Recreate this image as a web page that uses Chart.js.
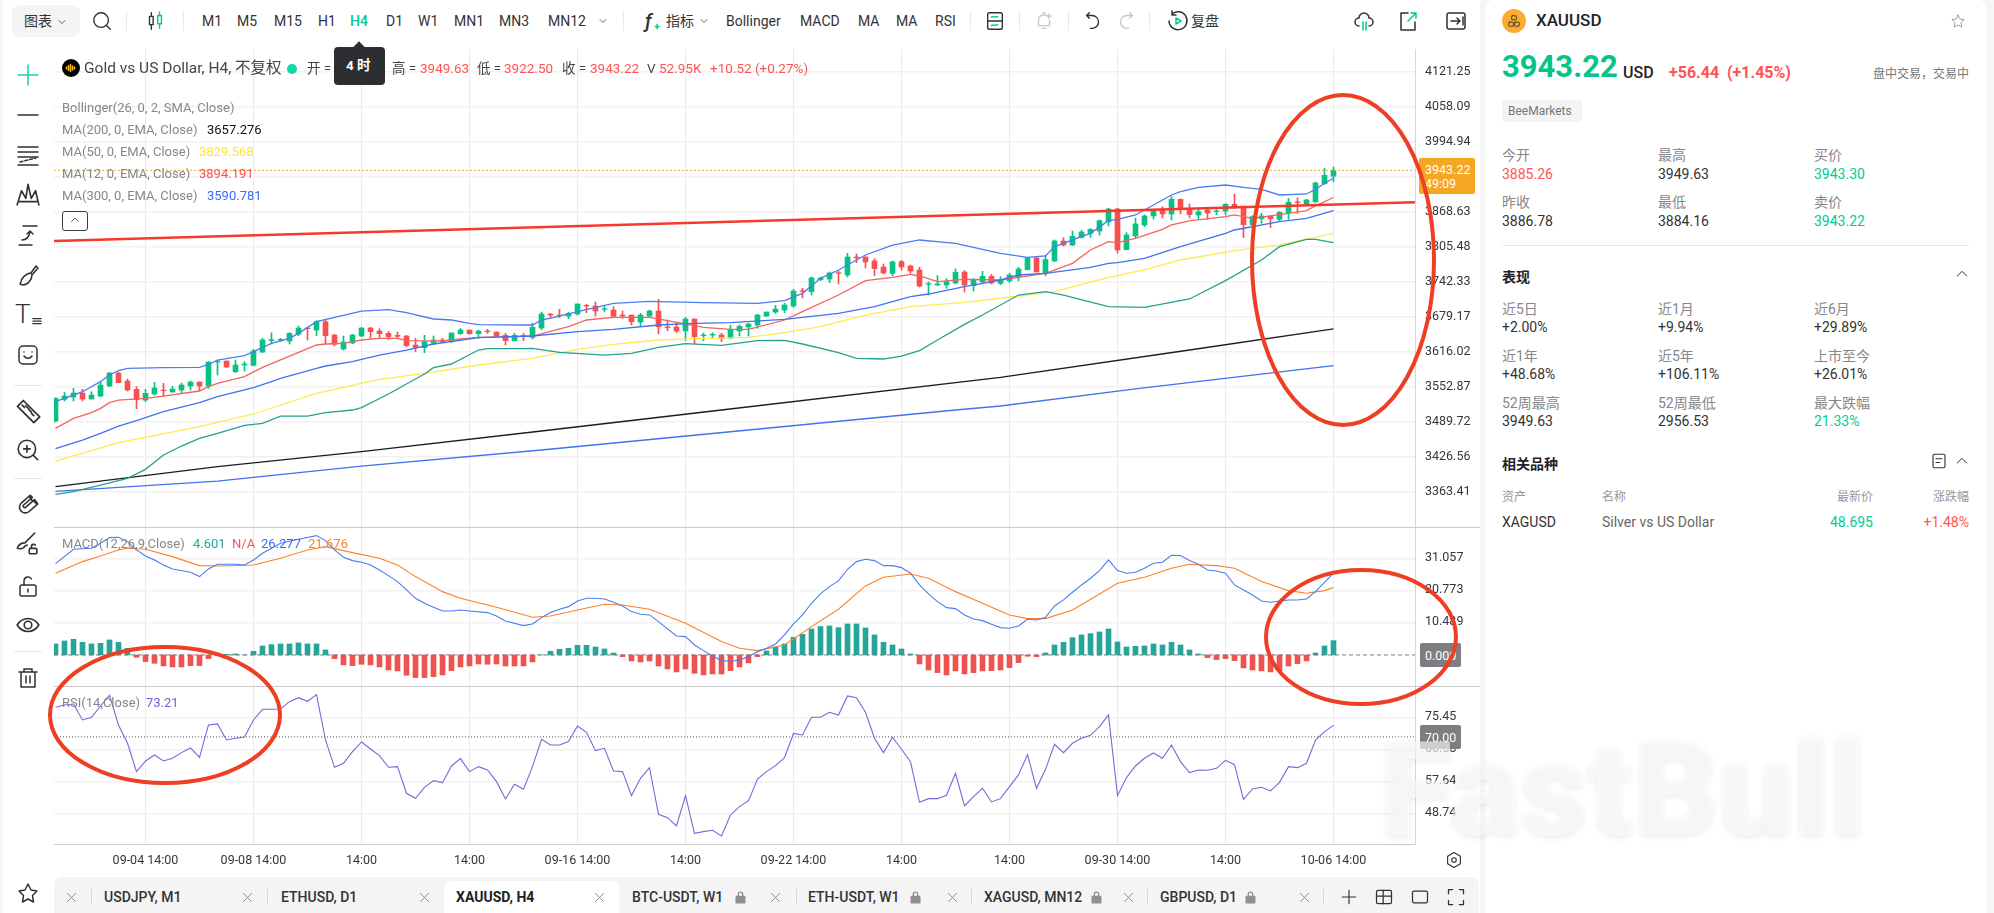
<!DOCTYPE html>
<html lang="zh">
<head>
<meta charset="utf-8">
<title>XAUUSD H4</title>
<script src="https://cdn.jsdelivr.net/npm/chart.js@4/dist/chart.umd.min.js"></script>
<style>
  html, body { margin: 0; padding: 0; }
  body { width: 1994px; height: 913px; overflow: hidden; background: #f6f6f7; position: relative;
         font-family: Roboto, "Noto Sans CJK SC", sans-serif; color: #333; }
  canvas { position: absolute; }
  .box { position: absolute; }
  .t { position: absolute; white-space: nowrap; transform: translateY(-50%); line-height: 1.2; }
  svg.ic { position: absolute; fill: none; stroke: #2e3138; stroke-width: 1.5; stroke-linecap: round; stroke-linejoin: round; }
  #mark { position: absolute; left: 1380px; top: 724px; font: 900 132px/1 Roboto, sans-serif;
          color: rgba(250,250,251,.66); text-shadow: 0 2px 6px rgba(0,0,0,.08); white-space: nowrap; }
  #ovals { position: absolute; left: 0; top: 0; }
</style>
</head>
<body>
<div class="box" style="left:3px;top:0;width:1477px;height:913px;background:#fff"></div>
<div class="box" style="left:1486px;top:0;width:500px;height:913px;background:#fff;border-radius:8px 8px 0 0"></div>
<div class="box" style="left:54px;top:877px;width:1425px;height:36px;background:#f4f4f5;border-radius:8px 8px 0 0"></div>
<div class="box" style="left:444px;top:881px;width:175px;height:32px;background:#fff;border-radius:6px 6px 0 0"></div>
<div class="box" style="left:12px;top:5px;width:68px;height:32px;background:#f4f4f5;border-radius:8px"></div>
<canvas id="priceChart" style="left:54px;top:49px" width="1426" height="478"></canvas>
<canvas id="macdChart" style="left:54px;top:527px" width="1426" height="159"></canvas>
<canvas id="rsiChart" style="left:54px;top:686px" width="1426" height="191"></canvas>
<div class="box" style="left:54px;top:527px;width:1426px;height:1px;background:#c9c9ce"></div>
<div class="box" style="left:54px;top:686px;width:1426px;height:1px;background:#c9c9ce"></div>
<div id="ui"></div>
<svg id="ovals" width="1994" height="913" fill="none" stroke="#ee3e23" stroke-width="4">
  <ellipse cx="1343" cy="260" rx="91" ry="165"/>
  <ellipse cx="1361" cy="637" rx="95" ry="67"/>
  <ellipse cx="165" cy="715" rx="115" ry="68"/>
</svg>
<div id="mark">FastBull</div>
<script>
'use strict';

// ============================================================
// 1. DATA
// ============================================================
const opens = [
  3490.9,3530.0,3534.2,3541.4,3530.6,3536.0,3554.1,3577.5,3563.1,3548.1,
  3528.8,3539.6,3546.9,3543.2,3546.9,3554.1,3561.3,3554.1,3597.4,3599.2,
  3580.0,3592.0,3591.4,3615.4,3635.9,3637.1,3635.3,3647.9,3658.7,3655.1,
  3670.2,3646.1,3620.8,3631.7,3644.3,3658.7,3653.3,3649.1,3645.5,3644.3,
  3628.1,3623.3,3631.1,3637.1,3634.1,3648.5,3655.1,3648.5,3653.3,3651.5,
  3645.5,3635.9,3645.5,3641.9,3658.8,3684.0,3682.2,3680.4,3684.0,3699.7,
  3698.5,3692.4,3691.2,3682.2,3682.2,3669.6,3680.4,3689.4,3660.6,3660.6,
  3653.4,3675.0,3644.9,3646.1,3646.1,3640.7,3653.4,3660.6,3664.2,3680.4,
  3687.6,3691.2,3698.5,3726.1,3724.3,3746.0,3747.2,3758.6,3754.4,3786.9,
  3786.9,3779.7,3768.8,3757.4,3778.5,3770.6,3763.4,3737.6,3736.4,3736.4,
  3740.0,3759.8,3735.2,3742.4,3752.0,3739.4,3744.2,3751.4,3764.1,3785.1,
  3756.8,3779.7,3815.8,3808.6,3822.4,3829.6,3833.8,3850.1,3873.5,3800.2,
  3824.8,3844.7,3860.9,3871.7,3864.5,3891.0,3874.1,3862.7,3871.7,3868.7,
  3869.9,3882.0,3877.7,3844.7,3856.1,3860.3,3854.9,3866.3,3886.2,3882.0,
  3886.2,3919.2,3932.7
];
const closes = [
  3531.8,3536.0,3541.4,3530.6,3537.8,3555.9,3577.5,3560.1,3546.9,3529.4,
  3540.8,3550.5,3545.7,3548.7,3555.9,3561.3,3554.1,3597.4,3598.6,3588.4,
  3592.0,3593.8,3617.2,3637.1,3637.7,3638.3,3649.1,3658.7,3657.5,3670.2,
  3644.9,3629.3,3633.5,3646.1,3658.7,3652.1,3648.5,3643.1,3643.7,3626.9,
  3623.9,3634.1,3637.1,3633.5,3649.7,3655.1,3648.5,3653.3,3652.1,3644.3,
  3635.9,3645.5,3644.3,3660.0,3684.0,3682.2,3681.0,3685.2,3702.1,3698.5,
  3689.4,3693.6,3679.8,3680.4,3670.2,3682.2,3689.4,3661.2,3659.4,3653.4,
  3675.0,3643.1,3646.1,3647.3,3640.1,3655.8,3661.8,3666.0,3682.2,3687.6,
  3693.0,3700.3,3725.5,3724.9,3749.0,3748.4,3758.0,3757.4,3786.9,3785.1,
  3777.9,3765.8,3758.0,3777.9,3768.8,3761.6,3734.5,3738.8,3738.2,3742.4,
  3759.2,3736.4,3745.4,3752.0,3740.0,3746.6,3754.4,3765.3,3785.1,3759.9,
  3782.1,3815.8,3808.6,3824.2,3832.0,3836.8,3852.5,3873.5,3799.6,3826.6,
  3846.5,3860.9,3871.7,3864.5,3891.0,3872.9,3863.3,3868.7,3866.3,3869.9,
  3882.0,3876.5,3845.3,3859.7,3860.9,3856.1,3867.5,3885.6,3885.0,3889.8,
  3920.5,3934.3,3943.22
];
const highs = [
  3533.0,3542.6,3549.9,3548.1,3543.8,3561.9,3578.7,3578.7,3566.7,3552.9,
  3548.1,3560.7,3558.9,3553.5,3559.5,3563.1,3561.3,3597.4,3601.0,3599.2,
  3601.0,3598.0,3620.2,3640.1,3650.3,3640.1,3650.3,3662.4,3659.9,3672.0,
  3675.0,3647.3,3644.3,3647.3,3659.9,3659.9,3657.5,3652.7,3651.5,3645.5,
  3640.1,3645.5,3644.3,3640.1,3650.3,3658.1,3655.1,3655.1,3656.3,3651.5,
  3649.1,3649.1,3649.1,3667.2,3687.6,3685.2,3692.4,3687.0,3702.1,3701.5,
  3705.7,3697.3,3697.3,3689.4,3682.2,3685.2,3691.2,3710.5,3673.2,3669.0,
  3678.0,3675.0,3649.7,3650.3,3649.1,3663.6,3664.2,3667.2,3683.4,3687.6,
  3699.7,3703.3,3728.5,3730.3,3750.8,3750.8,3759.8,3761.6,3793.5,3792.3,
  3787.5,3783.9,3774.2,3779.7,3780.9,3772.4,3768.2,3741.8,3753.2,3747.8,
  3765.2,3762.2,3748.4,3761.0,3755.6,3751.4,3757.4,3768.3,3786.3,3786.3,
  3789.9,3817.6,3821.8,3833.8,3835.0,3838.0,3853.7,3874.7,3874.7,3830.8,
  3856.7,3862.7,3872.9,3877.7,3895.8,3891.6,3882.6,3872.9,3874.1,3872.9,
  3883.2,3900.6,3878.9,3861.5,3865.7,3862.1,3868.7,3892.8,3894.0,3891.0,
  3922.3,3946.9,3949.63
];
const lows = [
  3489.1,3527.0,3527.0,3527.0,3530.6,3534.8,3552.9,3560.1,3545.1,3513.2,
  3525.8,3537.8,3536.0,3543.2,3542.0,3546.9,3545.1,3549.9,3573.9,3587.2,
  3578.1,3581.1,3590.2,3614.2,3629.9,3634.7,3629.9,3644.9,3637.1,3644.9,
  3629.9,3626.3,3619.0,3630.5,3643.1,3640.1,3640.1,3638.3,3640.1,3624.5,
  3616.0,3614.2,3628.7,3632.3,3632.9,3647.3,3647.3,3640.1,3649.1,3643.1,
  3628.1,3635.3,3635.9,3638.9,3655.8,3677.4,3677.4,3675.6,3682.2,3686.4,
  3680.4,3687.6,3678.0,3676.2,3664.2,3661.2,3678.0,3647.9,3654.0,3650.4,
  3635.9,3629.9,3635.9,3640.1,3634.1,3639.5,3644.3,3644.3,3658.2,3679.2,
  3685.2,3686.4,3696.1,3712.9,3718.3,3744.2,3740.6,3738.2,3750.8,3776.7,
  3767.0,3753.2,3756.2,3753.2,3763.4,3757.4,3732.7,3718.3,3735.2,3730.3,
  3738.2,3723.7,3725.5,3738.2,3738.2,3737.0,3740.6,3744.2,3763.5,3759.9,
  3753.2,3778.5,3806.8,3807.4,3821.2,3822.4,3826.6,3842.9,3794.1,3799.6,
  3820.6,3841.7,3855.5,3857.3,3853.7,3864.5,3857.3,3855.5,3854.9,3863.3,
  3862.7,3874.7,3821.8,3844.1,3847.7,3839.9,3852.5,3854.9,3865.7,3880.8,
  3885.6,3918.0,3922.5
];

const bbUpperX = [0,3,5,6,7,8,12,16,17,18,21,22,24,26,27,29,34,37,39,42,44,46,47,52,53,54,56,58,62,66,72,78,81,83,85,87,90,93,96,100,105,108,110,111,113,115,117,118,120,122,124,125,127,130,132,134,136,139,140,141,142];
const bbUpperY = [3525.8,3543.8,3561.9,3573.9,3581.8,3586.0,3587.2,3587.8,3593.2,3601.0,3608.8,3616.0,3631.1,3640.1,3649.1,3670.2,3689.4,3691.8,3686.4,3675.0,3673.2,3667.2,3664.8,3664.2,3664.2,3673.2,3680.4,3688.2,3703.3,3706.9,3704.5,3703.3,3708.1,3721.3,3748.4,3763.4,3790.5,3808.5,3817.6,3811.5,3793.5,3786.3,3788.7,3805.6,3817.6,3829.6,3852.5,3854.9,3862.7,3880.8,3898.8,3904.8,3912.6,3916.8,3912.6,3909.0,3898.8,3900.6,3909.0,3919.9,3928.9];
const bbMidX = [0,3,5,7,9,12,16,18,22,24,25,29,30,33,34,36,39,42,44,47,53,58,62,67,71,75,81,87,91,95,97,101,105,107,110,115,117,118,121,125,130,131,136,139,142];
const bbMidY = [3441.0,3456.6,3468.7,3481.9,3491.5,3507.8,3524.0,3534.8,3551.1,3561.9,3567.9,3586.0,3590.2,3598.0,3602.2,3610.0,3619.0,3629.9,3634.1,3641.3,3644.3,3652.1,3656.4,3664.2,3667.2,3668.4,3674.4,3685.2,3697.3,3715.3,3720.1,3733.3,3745.4,3754.4,3757.4,3768.3,3775.5,3776.7,3784.5,3805.6,3829.6,3835.6,3850.7,3856.7,3870.5];
const bbLowerX = [0,2,5,8,10,12,14,16,18,21,23,25,28,30,33,34,37,41,42,44,47,48,52,53,56,61,64,67,70,74,78,81,83,87,89,92,94,96,98,101,103,107,110,112,117,121,126,130,134,136,139,140,142];
const bbLowerY = [3358.6,3363.4,3375.4,3387.5,3403.7,3429.6,3445.8,3459.6,3468.7,3483.1,3486.7,3499.9,3499.9,3506.0,3510.8,3515.0,3539.6,3575.7,3587.2,3593.8,3619.0,3621.4,3621.4,3622.1,3614.8,3610.0,3613.0,3623.9,3630.5,3627.5,3635.9,3636.5,3629.9,3614.2,3604.0,3602.8,3608.2,3617.9,3637.1,3665.4,3682.3,3718.3,3724.4,3718.3,3697.3,3696.1,3711.1,3744.2,3781.5,3805.6,3818.8,3818.8,3812.8];
const ma12X = [0,2,4,5,6,7,10,12,16,17,18,21,23,29,30,32,34,36,38,39,43,45,47,51,53,57,59,62,66,68,72,75,77,81,83,87,90,93,95,96,98,101,105,110,113,115,117,118,120,123,124,126,130,131,133,137,139,140,142];
const ma12Y = [3477.7,3495.7,3506.0,3513.8,3524.0,3528.8,3531.8,3536.0,3545.1,3552.9,3558.9,3570.9,3587.8,3628.1,3629.9,3631.1,3637.1,3640.1,3640.1,3635.9,3635.3,3638.9,3641.9,3643.1,3644.3,3661.2,3673.2,3678.0,3678.0,3672.0,3660.0,3656.4,3656.4,3673.2,3688.2,3718.3,3744.2,3750.2,3755.6,3752.6,3742.4,3746.6,3745.4,3757.4,3775.5,3799.6,3814.6,3812.8,3820.6,3836.8,3844.7,3851.9,3859.7,3862.7,3856.7,3865.7,3870.5,3879.0,3894.191];
const ma50X = [0,7,16,22,29,36,41,47,53,58,62,67,72,77,81,85,90,95,101,107,111,117,121,125,131,136,142];
const ma50Y = [3418.7,3451.8,3480.7,3503.6,3540.8,3566.1,3576.9,3592.0,3604.0,3620.3,3629.3,3637.1,3640.1,3641.9,3650.3,3661.2,3682.2,3697.3,3705.1,3716.5,3724.4,3750.2,3763.5,3781.5,3798.3,3808.6,3829.568];
const ma200X = [0,18,34,54,74,105,126,142];
const ma200Y = [3372.4,3408.5,3435.6,3472.9,3510.8,3569.7,3619.1,3657.276];
const ma300X = [0,18,34,54,77,100,105,120,142];
const ma300Y = [3364.0,3382.6,3409.7,3438.6,3474.7,3510.8,3518.0,3549.0,3590.781];
const trendX = [-0.1667,151.0556];
const trendY = [3815.8,3885.6];
const lastPrice = 3943.22;

const macdHist = [
  3.54,4.50,5.04,4.07,3.54,3.75,4.82,4.07,2.14,-0.75,
  -2.14,-2.68,-3.54,-3.86,-3.86,-3.43,-3.43,-1.18,0.11,0.21,
  0.32,0.05,1.18,2.89,3.32,3.54,3.54,3.86,3.54,3.54,
  1.61,-1.18,-3.21,-3.43,-3.00,-3.21,-3.86,-4.82,-5.14,-6.53,
  -7.28,-7.28,-6.96,-6.43,-5.04,-3.86,-3.54,-2.89,-3.00,-2.89,
  -3.54,-3.54,-3.54,-2.25,0.03,1.18,1.82,2.14,3.11,3.11,
  2.57,1.93,0.64,-0.54,-1.93,-2.25,-1.93,-3.54,-4.50,-5.46,
  -4.50,-5.89,-6.43,-6.11,-6.11,-5.04,-3.86,-2.57,-0.54,1.29,
  2.57,3.54,5.68,6.64,8.36,9.11,9.32,8.78,9.96,9.96,
  8.68,6.43,4.07,3.21,1.93,0.32,-2.89,-4.82,-5.68,-6.43,
  -5.14,-6.11,-5.68,-5.14,-5.04,-4.82,-4.07,-2.46,-0.43,-0.54,
  0.64,3.21,4.07,5.57,6.43,6.86,7.39,8.36,4.18,2.57,
  2.79,2.89,3.54,3.21,4.07,3.21,1.61,0.32,-0.86,-1.50,
  -1.18,-1.82,-4.18,-4.82,-5.14,-5.46,-5.04,-3.54,-2.79,-1.93,
  0.64,2.89,4.601
];
const macdX = [0,2,4,5,6,7,8,9,10,11,12,13,15,16,17,18,20,21,22,23,24,25,27,29,30,31,32,33,34,35,36,37,38,39,40,41,42,43,44,45,46,48,49,50,52,53,54,55,56,57,58,59,60,61,62,63,64,65,66,67,68,69,70,71,72,73,74,75,76,77,78,79,80,81,82,83,84,85,86,87,88,89,90,91,92,93,94,95,96,97,98,99,100,101,102,103,104,105,106,107,108,109,110,111,112,113,114,115,116,117,118,119,120,121,122,123,124,125,126,127,128,129,130,131,132,133,134,135,136,137,138,139,140,141,142];
const macdY = [29.35,33.96,34.28,35.89,37.71,37.82,36.42,33.75,31.82,30.53,28.93,27.64,26.57,25.18,27.64,29.14,29.14,28.93,30.53,32.67,34.28,35.89,37.17,38.35,36.75,33.75,31.39,30.32,29.78,28.93,27.32,25.50,23.57,20.89,18.21,16.61,15.32,14.14,14.14,14.46,14.14,13.61,12.53,10.93,9.43,9.96,12.00,13.61,14.68,15.53,17.36,18.21,18.21,18.00,16.93,15.75,13.93,13.07,12.86,10.71,8.36,6.11,5.89,3.21,1.39,-0.32,-1.82,-2.04,-1.61,-0.54,1.07,2.14,3.54,6.43,9.96,12.86,16.61,19.61,21.96,23.78,27.53,30.00,30.75,30.32,28.71,28.71,28.07,26.25,22.50,19.61,17.14,15.21,14.89,12.86,11.57,11.03,9.86,8.78,8.57,9.32,11.46,11.25,12.11,15.75,17.68,20.14,22.50,24.64,27.10,30.53,27.10,26.25,26.57,27.85,29.46,29.78,32.03,31.92,30.32,29.14,27.32,27.00,26.25,22.50,20.89,19.28,17.36,16.93,17.36,17.68,17.68,18.00,20.35,23.35,26.277];
const signalX = [0,3,5,7,8,10,13,16,18,22,25,28,30,33,36,38,40,43,45,49,53,55,58,61,63,66,70,74,76,78,81,84,87,90,92,95,97,100,103,106,108,110,113,116,118,121,124,126,129,131,134,137,139,141,142];
const signalY = [26.25,30.00,31.82,33.75,34.28,33.96,31.60,28.71,28.60,28.93,31.07,33.75,34.82,32.89,31.07,28.93,25.18,20.35,18.21,15.32,12.11,12.53,14.46,16.28,16.07,14.68,10.18,4.29,2.14,1.39,3.21,9.11,14.68,22.18,24.96,26.03,24.64,20.35,16.61,12.86,11.68,11.68,14.46,19.61,23.03,24.96,27.85,29.14,28.71,27.85,23.57,20.68,19.82,20.68,21.676];

const rsiValues = [
  78.23,78.88,79.16,74.71,75.45,78.60,81.57,73.32,68.22,60.34,
  63.30,64.97,63.30,64.04,65.62,66.92,64.32,73.32,73.60,69.14,
  69.61,69.98,74.71,77.68,77.68,77.77,79.81,80.92,79.90,81.76,
  69.14,61.54,62.65,65.90,68.59,66.64,64.79,61.54,61.73,54.31,
  52.92,55.98,57.83,57.27,61.91,63.95,60.34,61.73,60.80,57.55,
  52.73,56.81,55.42,61.73,69.33,67.75,67.75,68.68,73.04,71.28,
  66.18,66.83,60.52,60.34,53.66,58.48,61.45,48.47,47.54,45.22,
  53.66,43.18,43.64,44.02,42.44,48.28,50.60,52.27,58.29,60.34,
  62.00,64.23,70.96,70.54,75.45,75.45,76.84,76.10,81.38,80.92,
  76.84,69.61,65.62,69.89,66.55,63.12,51.80,52.82,52.82,53.75,
  59.87,50.78,53.38,55.70,51.90,52.82,56.16,59.41,65.06,55.70,
  60.98,67.94,65.62,68.22,69.61,70.44,72.85,76.10,53.66,58.67,
  61.91,64.04,65.53,64.04,67.75,63.12,60.06,60.80,60.71,61.26,
  63.49,62.28,52.64,55.51,55.98,54.96,57.37,61.73,61.45,62.65,
  69.14,71.46,73.21
];
const rsiLevel = 70;

const timeTickIdx = [10,22,34,46,58,70,82,94,106,118,130,142];
const timeTicks = ['09-04 14:00','09-08 14:00','14:00','14:00','09-16 14:00','14:00','09-22 14:00','14:00','14:00','09-30 14:00','14:00','10-06 14:00'];
const priceTicks = [4121.25,4058.09,3994.94,3931.78,3868.63,3805.48,3742.33,3679.17,3616.02,3552.87,3489.72,3426.56,3363.41];
const macdTicks = [31.057,20.773,10.489];
const rsiTicks = [75.45,66.55,57.64,48.74];

// ============================================================
// 2. CHART HELPERS
// ============================================================
const UP = '#08c283', DOWN = '#f9504f';
const X_MIN = -0.1667, X_MAX = 151.0556;   // left edge of pane, price axis line
const AXIS_W = 65;

function xy(xs, ys) { return xs.map((x, i) => ({ x, y: ys[i] })); }

function lineSet(xs, ys, color, order, extra) {
  return Object.assign({ type: 'line', data: xy(xs, ys), borderColor: color, borderWidth: 1.3,
    pointRadius: 0, tension: 0, order }, extra || {});
}

function barSet(values, colors, width, order) {
  return { type: 'bar', data: values, backgroundColor: colors, barThickness: width, grouped: false,
    borderWidth: 0, order };
}

// axis labels must not push the plot area in from the pane edges
function noPadding(ax) { ax.paddingTop = ax.paddingBottom = ax.paddingLeft = ax.paddingRight = 0; }

function makeChart(id, datasets, yRange, yTicks, decimals, showTime) {
  const ctx = document.getElementById(id);
  return new Chart(ctx, {
    type: 'bar',
    data: { datasets },
    options: {
      responsive: false, animation: false, events: [], devicePixelRatio: 1,
      layout: { padding: 0 },
      plugins: { legend: { display: false }, tooltip: { enabled: false } },
      scales: {
        x: {
          type: 'linear', min: X_MIN, max: X_MAX, offset: false,
          grid: { color: '#eaeaec', lineWidth: 1, offset: false, drawTicks: false },
          border: { display: showTime, color: '#c9c9ce' },
          afterBuildTicks: ax => { ax.ticks = timeTickIdx.map(v => ({ value: v })); },
          afterFit: ax => { ax.height = showTime ? 33 : 0; noPadding(ax); },
          ticks: {
            display: showTime, autoSkip: false, maxRotation: 0, padding: 9, color: '#33363d',
            font: { family: 'Roboto', size: 12.5 },
            callback: (v, i) => timeTicks[i]
          }
        },
        y: {
          position: 'right', min: yRange[0], max: yRange[1],
          grid: { color: '#f1f1f3', lineWidth: 1.5, drawTicks: false },
          border: { color: '#d6d6da' },
          afterBuildTicks: ax => { ax.ticks = yTicks.map(v => ({ value: v })); },
          afterFit: ax => { ax.width = AXIS_W; noPadding(ax); },
          ticks: {
            autoSkip: false, padding: 10, color: '#33363d', crossAlign: 'near',
            font: { family: 'Roboto', size: 12.5 },
            callback: v => v.toFixed(decimals)
          }
        }
      }
    }
  });
}

// ============================================================
// 3. THE THREE PANES
// ============================================================
const idx = opens.map((_, i) => i);
const candleColors = opens.map((o, i) => closes[i] >= o ? UP : DOWN);
const wicks = idx.map(i => ({ x: i, y: [lows[i], highs[i]] }));
const bodies = idx.map(i => ({ x: i, y: [opens[i], closes[i]] }));

makeChart('priceChart', [
  lineSet(trendX, trendY, '#f6392b', 1, { borderWidth: 2.6 }),
  lineSet(bbUpperX, bbUpperY, '#4a7cf3', 2),
  lineSet(bbMidX, bbMidY, '#3f73f0', 2),
  lineSet(bbLowerX, bbLowerY, '#26a08f', 2),
  lineSet(ma12X, ma12Y, '#f6625e', 2),
  lineSet(ma50X, ma50Y, '#ffeb4d', 2),
  lineSet(ma200X, ma200Y, '#1c1c1c', 2),
  lineSet(ma300X, ma300Y, '#3f73f0', 2),
  lineSet(trendX, [lastPrice, lastPrice], '#e6a93a', 3, { borderWidth: 1, borderDash: [2, 2] }),
  barSet(bodies, candleColors, 5, 4),
  barSet(wicks, candleColors, 1, 5)
], [3299.7, 4162.2], priceTicks, 2, false);

makeChart('macdChart', [
  lineSet(macdX, macdY, '#4a7cf3', 1, { borderWidth: 1.1 }),
  lineSet(signalX, signalY, '#ff8126', 1, { borderWidth: 1.1 }),
  lineSet(trendX, [0, 0], '#7c7c80', 2, { borderWidth: 1, borderDash: [4, 3] }),
  barSet(idx.map(i => ({ x: i, y: macdHist[i] })), macdHist.map(v => v >= 0 ? '#26a69a' : '#ef5350'), 5, 3)
], [-9.98, 41.12], macdTicks, 3, false);

makeChart('rsiChart', [
  lineSet(idx, rsiValues, '#8560d8', 1, { borderWidth: 1.1 }),
  lineSet(trendX, [rsiLevel, rsiLevel], '#555', 2, { borderWidth: 1, borderDash: [1, 2] })
], [40.2, 84.16], rsiTicks, 2, true);

// ============================================================
// 4. PAGE CHROME (toolbars, legends, side panel)
// ============================================================
const ui = document.getElementById('ui');

function put(x, y, text, css, alignRight) {
  const el = document.createElement('div');
  el.className = 't';
  el.textContent = text;
  el.style.cssText = (alignRight ? 'right:' + (1994 - x) : 'left:' + x) + 'px;top:' + y + 'px;' + (css || '');
  ui.appendChild(el);
}

function icon(cx, cy, size, inner, css) {
  const s = document.createElementNS('http://www.w3.org/2000/svg', 'svg');
  s.setAttribute('class', 'ic');
  s.setAttribute('viewBox', '0 0 24 24');
  s.setAttribute('width', size);
  s.setAttribute('height', size);
  s.style.cssText = 'left:' + (cx - size / 2) + 'px;top:' + (cy - size / 2) + 'px;' + (css || '');
  s.innerHTML = inner;
  ui.appendChild(s);
}

function rule(x, y, w, h, color) {
  const el = document.createElement('div');
  el.className = 'box';
  el.style.cssText = 'left:' + x + 'px;top:' + y + 'px;width:' + w + 'px;height:' + h + 'px;background:' + (color || '#e8e8ea');
  ui.appendChild(el);
}

const RED = 'color:#ff5353', GREEN = 'color:#00cc92', GRAY = 'color:#85878c';
const CHEV = '<path d="M6 9l6 6 6-6"/>', CHEV_UP = '<path d="M5 15l7-7 7 7"/>';

// top toolbar
put(24, 21, '图表', 'font-size:14px');
icon(62, 22, 12, CHEV);
icon(102, 21, 22, '<circle cx="11" cy="11" r="8"/><path d="M17 17l4 4"/>');
icon(155, 21, 22, '<rect x="6" y="7" width="4" height="9"/><path d="M8 3v4M8 16v5"/><rect x="15" y="6" width="4" height="9" stroke="#00c98f"/><path d="M17 2v4M17 15v5" stroke="#00c98f"/>');
rule(126, 11, 1, 20); rule(183, 11, 1, 20); rule(623, 11, 1, 20); rule(970, 11, 1, 20);
rule(1019, 11, 1, 20); rule(1068, 11, 1, 20); rule(1149, 11, 1, 20);
const periods = ['M1','M5','M15','H1','H4','D1','W1','MN1','MN3','MN12'];
const periodX = [202,237,274,318,350,386,418,454,499,548];
periods.forEach((p, i) => put(periodX[i], 21, p, 'font-size:14px;' + (p === 'H4' ? 'color:#00cc92;font-weight:500' : '')));
icon(603, 21, 12, CHEV);
put(645, 21, 'ƒ', 'font-size:20px;font-style:italic;font-weight:500');
put(654, 27, '+', 'font-size:11px;color:#00c98f;font-weight:700');
put(666, 21, '指标', 'font-size:14px');
icon(704, 21, 12, CHEV);
const studies = ['Bollinger','MACD','MA','MA','RSI'];
const studyX = [726,800,858,896,935];
studies.forEach((p, i) => put(studyX[i], 21, p, 'font-size:14px'));
icon(995, 21, 22, '<rect x="4" y="3" width="16" height="18" rx="2"/><path d="M4 12h16"/><path d="M8 8c2-2 4 1 7-1M8 17c2-2 4 1 7-1" stroke="#00c98f"/>');
icon(1044, 21, 22, '<path d="M6 17V11a6 6 0 0 1 9-5M6 17h12v-6M11 3h2M10 20h4M17 4v5M15 6.500h5" />', 'stroke:#c6c8cc');
icon(1093, 21, 22, '<path d="M8 3L5 6l3 3M5 6h6a7 7 0 1 1 0 14H9"/>');
icon(1126, 21, 22, '<path d="M16 3l3 3-3 3M19 6h-6a7 7 0 1 0 0 14h2"/>', 'stroke:#c6c8cc');
icon(1178, 21, 24, '<path d="M6 5a9 9 0 1 1-3 7M6 2v4h4"/><path d="M10 9l5 3-5 3z" stroke="#00c98f"/>');
put(1191, 21, '复盘', 'font-size:14px');
icon(1364, 21, 24, '<path d="M7 17a4 4 0 0 1 0-8 5 5 0 0 1 10 0 4 4 0 0 1 0 8"/><path d="M11 13v8M14 13v8" stroke="#00c98f"/>');
icon(1408, 21, 24, '<path d="M12 4H5v17h14v-8"/><path d="M12 12l8-8M15 4h5v5" stroke="#00c98f"/>');
icon(1456, 21, 24, '<rect x="3" y="4" width="18" height="16" rx="2"/><path d="M7 12h9M13 9l3 3-3 3M19 8v8"/>');

// left toolbar
icon(28, 75, 24, '<path d="M12 2v20M2 12h20"/>', 'stroke:#12d3a4');
icon(28, 115, 24, '<path d="M2 12h20"/>');
icon(28, 155, 24, '<path d="M2 4h20M2 9h20M2 14h20M2 22h20"/><path d="M4 19l16-4" stroke-dasharray="3 2"/>');
icon(28, 194, 26, '<path d="M2 22L6 9l4 7 2-13 3 13 4-7 3 13M4 19h16" />');
icon(28, 235, 24, '<path d="M7 3h14M3 22h13M6 17c5 0 7-3 8-8M11 11l3-3 3 3"/>');
icon(28, 275, 24, '<path d="M15 10l5-7 2 2-6 7zM15 10l1 2M14 10c-4 1-9 5-9 9l-1 2 3 1c5 0 9-6 9-10"/>');
put(15, 315, 'T', 'font-size:26px;font-weight:300;color:#2e3138');
icon(37, 321, 10, '<path d="M2 6h20M2 12h20M2 18h20"/>', 'stroke-width:3');
icon(28, 355, 24, '<rect x="3" y="3" width="18" height="18" rx="4"/><path d="M8 13c2 3 6 3 8 0M8 9v.1M16 9v.1"/>');
rule(14, 385, 28, 1);
icon(28, 411, 28, '<path d="M3 8l5-5 14 14-5 5zM7 7l2 2M10 7.500l3 3M13 11l2 2M15 14l2 2"/>');
icon(28, 450, 26, '<circle cx="11" cy="11" r="8"/><path d="M17 17l4 4M8 11h6M11 8v6"/>');
rule(14, 478, 28, 1);
icon(28, 505, 26, '<path d="M14 3L6 10a5 5 0 0 0 7 8l8-7-3-4-8 7a1 1 0 0 1-2-2l8-7zM13 4l3 4M17 8l3 3"/>');
icon(26, 544, 26, '<path d="M19 3l-8 8M11 11c-3 0-6 2-7 5 3 1 6 0 7-2l2-1M20 2l-1 1"/><rect x="15" y="16" width="7" height="5" rx="1"/><path d="M17 16v-2a2 2 0 0 1 3.500 -1"/>');
icon(28, 587, 24, '<rect x="4" y="10" width="16" height="11" rx="2"/><path d="M8 10V6a4 4 0 0 1 7.500-2M12 14v3"/>');
icon(28, 625, 26, '<path d="M2 12c5-8 15-8 20 0-5 8-15 8-20 0z"/><circle cx="12" cy="12" r="3.500"/>');
rule(14, 651, 28, 1);
icon(28, 678, 24, '<path d="M3 6h18M8 6V3h8v3M5 6v15h14V6M10 10v7M14 10v7"/>');
icon(28, 893, 24, '<path d="M12 3l3 6 6 1-4.500 4.500 1 6.500-5.500-3-5.500 3 1-6.500L3 10l6-1z"/>');

// price pane legend
const iconDot = document.createElement('div');
iconDot.className = 'box';
iconDot.style.cssText = 'left:62px;top:59px;width:18px;height:18px;border-radius:50%;background:#000';
ui.appendChild(iconDot);
icon(71, 68, 12, '<path d="M3 10v4M7 7v10M11 5v14M15 8v8M19 10v4" stroke="#f5b914"/>', 'stroke-width:3');
put(84, 68, 'Gold vs US Dollar, H4, 不复权', 'font-size:15.5px;color:#444');
rule(287, 64, 10, 10, '#0fd8a6');
ui.lastChild.style.borderRadius = '50%';
const ohlcLabels = ['开 =','高 =','低 =','收 =','V'];
const ohlcLabelX = [307,392,477,562,647];
const ohlcValues = ['3949.63','3922.50','3943.22','52.95K'];
const ohlcValueX = [420,504,590,659];
ohlcLabels.forEach((s, i) => put(ohlcLabelX[i], 68, s, 'font-size:13.5px;color:#444'));
ohlcValues.forEach((s, i) => put(ohlcValueX[i], 68, s, 'font-size:13.5px;' + RED));
put(710, 68, '+10.52 (+0.27%)', 'font-size:13.5px;' + RED);
rule(334, 47, 51, 38, '#2c2e31');
ui.lastChild.style.borderRadius = '4px';
rule(355, 43, 8, 8, '#2c2e31');
ui.lastChild.style.transform = 'rotate(45deg)';
put(346, 65, '4 时', 'font-size:13.5px;font-weight:700;color:#fff');

const indNames = ['Bollinger(26, 0, 2, SMA, Close)','MA(200, 0, EMA, Close)','MA(50, 0, EMA, Close)','MA(12, 0, EMA, Close)','MA(300, 0, EMA, Close)'];
const indValues = ['','3657.276','3829.568','3894.191','3590.781'];
const indColors = ['','#111','#ffe53b','#ff4d4d','#3a6df0'];
const indValueX = [0,207,199,199,207];
indNames.forEach((s, i) => {
  put(62, 107.500 + 22 * i, s, 'font-size:13px;' + GRAY);
  if (indValues[i]) put(indValueX[i], 107.500 + 22 * i, indValues[i], 'font-size:13px;color:' + indColors[i]);
});
const fold = document.createElement('div');
fold.className = 'box';
fold.style.cssText = 'left:62px;top:211px;width:24px;height:18px;border:1px solid #3a3c42;border-radius:3px;background:#fff';
ui.appendChild(fold);
icon(75, 220, 12, CHEV_UP);

// MACD and RSI legends
put(62, 544, 'MACD(12,26,9,Close)', 'font-size:13px;' + GRAY);
put(193, 544, '4.601', 'font-size:13px;color:#26a69a');
put(232, 544, 'N/A', 'font-size:13px;' + RED);
put(261, 544, '26.277', 'font-size:13px;color:#3a6df0');
put(308, 544, '21.676', 'font-size:13px;color:#ff7f24');
put(62, 703, 'RSI(14,Close)', 'font-size:13px;' + GRAY);
put(146, 703, '73.21', 'font-size:13px;color:#7e57d6');

// axis tags
rule(1419, 158, 56, 36, '#f5a623');
ui.lastChild.style.borderRadius = '2px';
put(1425, 169, '3943.22', 'font-size:12.5px;color:#fff');
put(1425, 183, '49:09', 'font-size:12.5px;color:#fff');
rule(1420, 643, 41, 24, '#7e7e82');
ui.lastChild.style.borderRadius = '2px';
put(1425, 655, '0.000', 'font-size:12.5px;color:#fff');
rule(1420, 725, 41, 24, '#7e7e82');
ui.lastChild.style.borderRadius = '2px';
put(1425, 737, '70.00', 'font-size:12.5px;color:#fff');
icon(1454, 860, 18, '<path d="M12 2l8.500 5v10L12 22l-8.500-5V7z"/><circle cx="12" cy="12" r="3"/>');

// tabs
const tabNames = ['USDJPY, M1','ETHUSD, D1','XAUUSD, H4','BTC-USDT, W1','ETH-USDT, W1','XAGUSD, MN12','GBPUSD, D1'];
const tabX = [104,281,456,632,808,984,1160];
const tabCloseX = [71,247,424,599,775,952,1128,1304];
const tabLockX = [0,0,0,740,915,1096,1250];
tabNames.forEach((s, i) => {
  put(tabX[i], 897, s, 'font-size:14px;font-weight:500;' + (i === 2 ? 'font-weight:700;color:#222' : ''));
  if (tabLockX[i]) icon(tabLockX[i], 897, 13, '<rect x="4" y="10" width="16" height="12" rx="1" fill="#8d8f95"/><path d="M8 10V6a4 4 0 0 1 8 0v4"/>', 'stroke:#8d8f95;stroke-width:2.5');
});
tabCloseX.forEach(x => icon(x, 897, 11, '<path d="M3 3l18 18M21 3L3 21"/>', 'stroke:#85878c;stroke-width:2'));
[91,267,796,971,1147,1323].forEach(x => rule(x, 889, 1, 16, '#d9d9dc'));
icon(1349, 897, 18, '<path d="M12 3v18M3 12h18"/>');
icon(1384, 897, 20, '<rect x="3" y="4" width="18" height="16" rx="2"/><path d="M3 11h18M11 4v16"/>');
icon(1420, 897, 20, '<rect x="3" y="5" width="18" height="14" rx="2"/>');
icon(1456, 897, 20, '<path d="M3 8V3h5M16 3h5v5M21 16v5h-5M8 21H3v-5"/>');

// side panel header
rule(1502, 9, 24, 24, '#fdab2d');
ui.lastChild.style.borderRadius = '50%';
icon(1514, 21, 14, '<rect x="8" y="3" width="8" height="7" rx="1"/><rect x="3" y="14" width="8" height="7" rx="1"/><rect x="13" y="14" width="8" height="7" rx="1"/>');
put(1536, 20, 'XAUUSD', 'font-size:17px;font-weight:500;color:#1f2229');
icon(1958, 21, 16, '<path d="M12 3l3 6 6 1-4.500 4.500 1 6.500-5.500-3-5.500 3 1-6.500L3 10l6-1z"/>', 'stroke:#9a9ca2');
put(1502, 67, '3943.22', 'font-size:31px;font-weight:700;color:#05c48a');
put(1623, 73, 'USD', 'font-size:16px;font-weight:500;color:#1f2229');
put(1669, 73, '+56.44', 'font-size:16px;font-weight:700;' + RED);
put(1727, 73, '(+1.45%)', 'font-size:16px;font-weight:700;' + RED);
put(1969, 74, '盘中交易，交易中', 'font-size:12px;color:#777', true);
rule(1502, 100, 80, 22, '#f4f4f5');
ui.lastChild.style.borderRadius = '3px';
put(1508, 111, 'BeeMarkets', 'font-size:12px;color:#777');

// side panel stat grids
const statX = [1502,1658,1814];
const quoteLabels = ['今开','最高','买价','昨收','最低','卖价'];
const quoteValues = ['3885.26','3949.63','3943.30','3886.78','3884.16','3943.22'];
const quoteColors = [RED,'','color:#00cc92','','','color:#00cc92'];
quoteLabels.forEach((s, i) => {
  const row = Math.floor(i / 3);
  put(statX[i % 3], 155 + 47 * row, s, 'font-size:14px;' + GRAY);
  put(statX[i % 3], 174 + 47 * row, quoteValues[i], 'font-size:14px;' + quoteColors[i]);
});
rule(1502, 245, 467, 1);
put(1502, 277, '表现', 'font-size:14px;font-weight:700;color:#1f2229');
icon(1962, 274, 16, CHEV_UP);
const perfLabels = ['近5日','近1月','近6月','近1年','近5年','上市至今','52周最高','52周最低','最大跌幅'];
const perfValues = ['+2.00%','+9.94%','+29.89%','+48.68%','+106.11%','+26.01%','3949.63','2956.53','21.33%'];
perfLabels.forEach((s, i) => {
  const row = Math.floor(i / 3);
  put(statX[i % 3], 309 + 47.200 * row, s, 'font-size:14px;' + GRAY);
  put(statX[i % 3], 327 + 47 * row, perfValues[i], 'font-size:14px;' + (i === 8 ? 'color:#00cc92' : ''));
});
put(1502, 464, '相关品种', 'font-size:14px;font-weight:700;color:#1f2229');
icon(1939, 461, 18, '<rect x="4" y="3" width="16" height="18" rx="2"/><path d="M8 9h8M8 14h5"/>');
icon(1962, 461, 16, CHEV_UP);
put(1502, 497, '资产', 'font-size:12px;color:#96989d');
put(1602, 497, '名称', 'font-size:12px;color:#96989d');
put(1873, 497, '最新价', 'font-size:12px;color:#96989d', true);
put(1969, 497, '涨跌幅', 'font-size:12px;color:#96989d', true);
put(1502, 522, 'XAGUSD', 'font-size:14px');
put(1602, 522, 'Silver vs US Dollar', 'font-size:14px;color:#666');
put(1873, 522, '48.695', 'font-size:14px;color:#00cc92', true);
put(1969, 522, '+1.48%', 'font-size:14px;' + RED, true);
</script>
</body>
</html>
